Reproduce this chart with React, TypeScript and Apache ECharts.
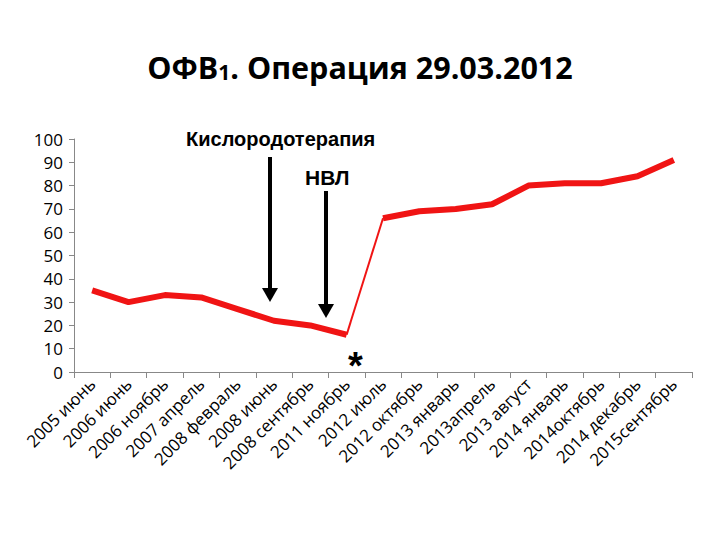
import { useEffect, useRef } from 'react';
import * as echarts from 'echarts';

const categories = [
  '2005 июнь', '2006 июнь', '2006 ноябрь', '2007 апрель', '2008 февраль',
  '2008 июнь', '2008 сентябрь', '2011 ноябрь', '2012 июль', '2012 октябрь',
  '2013 январь', '2013апрель', '2013 август', '2014 январь', '2014октябрь',
  '2014 декабрь', '2015сентябрь',
];
// ОФВ1, %
const fev1 = [35, 30, 33, 32, 27, 22, 20, 16, 66, 69, 70, 72, 80, 81, 81, 84, 91];
// index of the last point before the operation (thin jump segment follows)
const jumpFrom = 7;

const yMin = 0;
const yMax = 100;
const yStep = 10;

const RED = '#f01414';
const FONT = 'Open Sans';

export default function App() {
  const ref = useRef<HTMLDivElement>(null);

  useEffect(() => {
    document.body.style.margin = '0';
    const el = ref.current;
    if (!el) return;
    const chart = echarts.init(el, undefined, { renderer: 'svg' });

    // break the thick line at the jump, draw it thin as its own series
    const before = fev1.map((v, i) => (i <= jumpFrom ? v : '-'));
    const after = fev1.map((v, i) => (i > jumpFrom ? v : '-'));
    const jump = fev1.map((v, i) => (i === jumpFrom || i === jumpFrom + 1 ? v : '-'));

    const arrow = (x: number, y1: number, y2: number) => [
      { type: 'line', shape: { x1: x, y1, x2: x, y2: y2 - 10 }, style: { stroke: '#000', lineWidth: 4 } },
      {
        type: 'polygon',
        shape: { points: [[x - 8, y2 - 14], [x + 8, y2 - 14], [x, y2]] },
        style: { fill: '#000' },
      },
    ];

    chart.setOption({
      animation: false,
      title: {
        text: '{a|ОФВ}{b|1}{a|. Операция 29.03.2012}',
        left: 'center',
        top: 46,
        textStyle: {
          rich: {
            a: { fontSize: 30.5, fontWeight: 'bold', fontFamily: FONT, color: '#000' },
            b: { fontSize: 21, fontWeight: 'bold', fontFamily: FONT, color: '#000', verticalAlign: 'bottom' },
          },
        },
      },
      grid: { left: 74, right: 28, top: 139, bottom: 168, containLabel: false },
      xAxis: {
        type: 'category',
        data: categories,
        boundaryGap: true,
        axisLine: { lineStyle: { color: '#888', width: 1 } },
        axisTick: { show: true, interval: 0, length: 6, lineStyle: { color: '#888' } },
        axisLabel: {
          interval: 0,
          rotate: 45,
          fontSize: 17,
          fontFamily: FONT,
          color: '#000',
          margin: 9,
        },
      },
      yAxis: {
        type: 'value',
        min: yMin,
        max: yMax,
        interval: yStep,
        axisLine: { show: true, lineStyle: { color: '#888', width: 1 } },
        axisTick: { show: true, length: 5, lineStyle: { color: '#888' } },
        splitLine: { show: false },
        axisLabel: { fontSize: 17, fontFamily: FONT, color: '#000', margin: 11 },
      },
      series: [
        {
          type: 'line',
          data: before,
          symbol: 'none',
          connectNulls: false,
          lineStyle: { color: RED, width: 6 },
        },
        {
          type: 'line',
          data: jump,
          symbol: 'none',
          connectNulls: false,
          lineStyle: { color: RED, width: 2 },
        },
        {
          type: 'line',
          data: after,
          symbol: 'none',
          connectNulls: false,
          lineStyle: { color: RED, width: 6 },
        },
      ],
      graphic: [
        {
          type: 'text',
          left: 186,
          top: 129,
          style: { text: 'Кислородотерапия', font: 'bold 20px "Liberation Sans"', fill: '#000' },
        },
        {
          type: 'text',
          left: 305,
          top: 167,
          style: { text: 'НВЛ', font: 'bold 21px "Liberation Sans"', fill: '#000' },
        },
        {
          type: 'text',
          left: 348,
          top: 347,
          style: { text: '*', font: 'bold 38px "Liberation Sans"', fill: '#000' },
        },
        ...arrow(270, 157, 302),
        ...arrow(326, 191, 318),
      ],
    });

    return () => chart.dispose();
  }, []);

  return <div ref={ref} style={{ width: 720, height: 540 }} />;
}
